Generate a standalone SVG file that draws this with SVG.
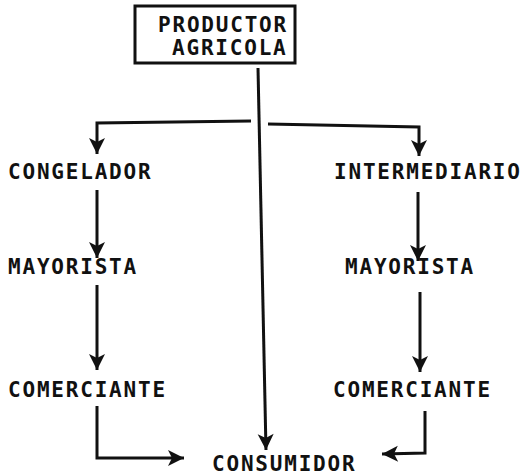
<svg xmlns="http://www.w3.org/2000/svg" width="529" height="476" viewBox="0 0 529 476">
<style>
.t{font-family:"DejaVu Sans Mono","Liberation Mono",monospace;font-size:21px;font-weight:bold;letter-spacing:1.8px;fill:#111}
.c{fill:none;stroke:#111;stroke-width:3;stroke-linejoin:miter}
.box{fill:#fff;stroke:#111;stroke-width:3}
</style>
<defs>
<marker id="ah" markerUnits="userSpaceOnUse" markerWidth="22" markerHeight="22" refX="17" refY="9" orient="auto">
<path d="M17,9 L1,1 L5,9 L1,17 Z" fill="#111"/>
</marker>
</defs>
<rect width="529" height="476" fill="#fff"/>
<g id="connectors">
<path class="c" d="M258,68 L266,450" marker-end="url(#ah)"/>
<path class="c" d="M251,121 L97,123 L97,154" marker-end="url(#ah)"/>
<path class="c" d="M268,124 L419,127 L419,156" marker-end="url(#ah)"/>
<path class="c" d="M97,190 L97,258" marker-end="url(#ah)"/>
<path class="c" d="M418,192 L418,261" marker-end="url(#ah)"/>
<path class="c" d="M97,285 L97,370" marker-end="url(#ah)"/>
<path class="c" d="M420,292 L420,372" marker-end="url(#ah)"/>
<path class="c" d="M97,406 L97,458 L184,458" marker-end="url(#ah)"/>
<path class="c" d="M425,411 L425,453 L382,454" marker-end="url(#ah)"/>
</g>
<g id="productor">
<rect class="box" x="135" y="6" width="160" height="57"/>
<text class="t" x="158" y="32">PRODUCTOR</text>
<text class="t" x="172" y="55">AGRICOLA</text>
</g>
<g id="congelador"><text class="t" x="8" y="179">CONGELADOR</text></g>
<g id="intermediario"><text class="t" x="334" y="179">INTERMEDIARIO</text></g>
<g id="mayorista1"><text class="t" x="8" y="274">MAYORISTA</text></g>
<g id="mayorista2"><text class="t" x="345" y="274">MAYORISTA</text></g>
<g id="comerciante1"><text class="t" x="8" y="397">COMERCIANTE</text></g>
<g id="comerciante2"><text class="t" x="333" y="397">COMERCIANTE</text></g>
<g id="consumidor"><text class="t" x="212" y="471">CONSUMIDOR</text></g>
</svg>
